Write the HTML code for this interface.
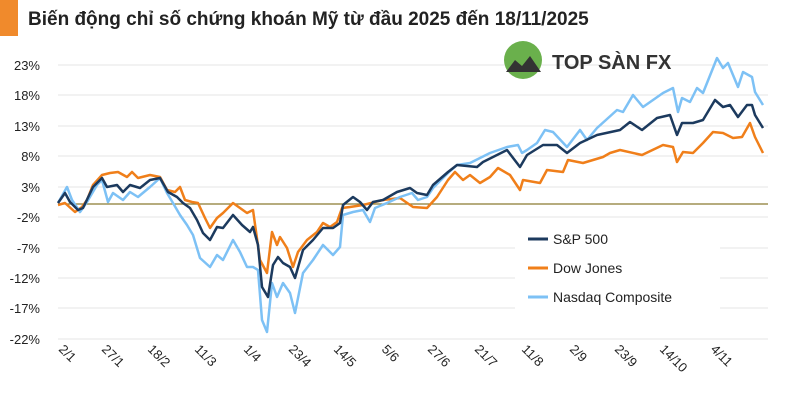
<!DOCTYPE html><html><head><meta charset="utf-8"><style>
body{margin:0;width:800px;height:400px;background:#fff;overflow:hidden;font-family:"Liberation Sans",sans-serif}
</style></head><body>
<svg width="800" height="400" xmlns="http://www.w3.org/2000/svg" font-family="Liberation Sans, DejaVu Sans, sans-serif">
<rect x="0" y="0" width="18" height="36" fill="#f08a2c"/>
<text x="28" y="25" font-size="19" font-weight="bold" fill="#222">Biến động chỉ số chứng khoán Mỹ từ đầu 2025 đến 18/11/2025</text>
<g stroke="#e4e4e4" stroke-width="1">
<line x1="58" y1="65" x2="768" y2="65"/><line x1="58" y1="95" x2="768" y2="95"/><line x1="58" y1="126" x2="768" y2="126"/><line x1="58" y1="156" x2="768" y2="156"/><line x1="58" y1="187" x2="768" y2="187"/><line x1="58" y1="217" x2="768" y2="217"/><line x1="58" y1="248" x2="768" y2="248"/><line x1="58" y1="278" x2="768" y2="278"/><line x1="58" y1="308" x2="768" y2="308"/><line x1="58" y1="339" x2="768" y2="339"/>
</g>
<line x1="58" y1="204" x2="768" y2="204" stroke="#8a7a30" stroke-width="1.3"/>
<g font-size="13" fill="#222" text-anchor="end">
<text x="40" y="70">23%</text><text x="40" y="100">18%</text><text x="40" y="131">13%</text><text x="40" y="161">8%</text><text x="40" y="192">3%</text><text x="40" y="222">-2%</text><text x="40" y="253">-7%</text><text x="40" y="283">-12%</text><text x="40" y="313">-17%</text><text x="40" y="344">-22%</text>
</g>
<g font-size="13" fill="#222">
<text transform="translate(58,350) rotate(45)">2/1</text>
<text transform="translate(101,350) rotate(45)">27/1</text>
<text transform="translate(147,350) rotate(45)">18/2</text>
<text transform="translate(194,350) rotate(45)">11/3</text>
<text transform="translate(243,350) rotate(45)">1/4</text>
<text transform="translate(288,350) rotate(45)">23/4</text>
<text transform="translate(333,350) rotate(45)">14/5</text>
<text transform="translate(381,350) rotate(45)">5/6</text>
<text transform="translate(427,350) rotate(45)">27/6</text>
<text transform="translate(474,350) rotate(45)">21/7</text>
<text transform="translate(521,350) rotate(45)">11/8</text>
<text transform="translate(569,350) rotate(45)">2/9</text>
<text transform="translate(614,350) rotate(45)">23/9</text>
<text transform="translate(659,350) rotate(45)">14/10</text>
<text transform="translate(710,350) rotate(45)">4/11</text>
</g>
<g fill="none" stroke-width="2.5" stroke-linejoin="round">
<polyline stroke="#f07f1a" points="58,205 65,203 75,212 82,207 87,200 93,185 102,175 110,173 118,172 127,177 132,172 138,178 150,175 160,177 167,190 175,192 180,187 185,200 192,202 198,203 205,218 210,228 217,218 223,213 233,203 240,208 247,213 253,210 260,260 267,273 272,232 277,245 280,237 287,248 293,267 298,252 307,240 317,232 323,223 330,227 337,222 342,208 350,207 363,205 383,200 400,198 413,207 427,208 437,197 448,180 455,172 463,180 470,175 480,183 490,177 498,168 510,175 520,190 523,180 540,183 547,170 563,172 568,160 583,163 603,157 610,153 620,150 642,155 663,145 673,147 677,162 683,152 693,153 703,143 713,132 723,133 733,138 742,137 750,123 755,137 763,153"/>
<polyline stroke="#7dc1f5" points="58,203 67,187 72,200 80,212 87,202 97,185 102,180 108,202 113,193 123,200 130,192 138,197 150,187 160,178 167,193 173,203 180,215 187,225 193,235 200,258 210,267 217,255 223,260 233,240 240,252 247,267 253,267 258,270 262,320 267,332 272,283 277,297 283,283 290,293 295,313 303,273 313,260 323,245 333,255 340,247 343,215 353,212 363,210 370,222 375,208 387,203 400,197 412,193 418,200 427,197 433,188 448,173 457,165 470,163 490,153 507,147 518,145 522,153 527,150 537,143 545,130 553,132 567,147 580,130 587,140 597,128 617,110 623,112 633,95 643,107 663,93 673,88 678,112 682,98 690,102 697,88 703,93 717,58 723,68 728,63 738,87 743,72 752,77 755,92 763,105"/>
<polyline stroke="#1c3a5e" points="58,203 65,193 70,202 78,210 83,208 93,187 102,178 107,187 117,185 123,192 130,185 140,188 150,180 160,178 168,192 177,197 183,203 190,208 197,220 203,233 210,240 217,227 223,228 233,215 242,225 250,232 253,227 258,245 262,287 268,297 273,265 278,257 283,263 290,267 295,278 303,250 313,240 323,228 333,228 340,223 343,205 353,197 360,202 367,210 373,202 383,200 397,192 410,188 417,193 427,195 433,185 448,172 457,165 477,167 483,162 507,150 520,167 527,155 543,145 557,145 567,153 580,143 597,135 620,130 630,122 642,130 657,118 670,115 677,135 682,123 693,123 703,120 715,100 723,107 730,105 738,117 747,105 752,105 755,115 763,128"/>
</g>
<rect x="515" y="225" width="205" height="85" fill="#fff"/>
<g font-size="14" fill="#222">
<line x1="528" y1="239" x2="548" y2="239" stroke="#1c3a5e" stroke-width="3"/><text x="553" y="244">S&amp;P 500</text>
<line x1="528" y1="268" x2="548" y2="268" stroke="#f07f1a" stroke-width="3"/><text x="553" y="273">Dow Jones</text>
<line x1="528" y1="297" x2="548" y2="297" stroke="#7dc1f5" stroke-width="3"/><text x="553" y="302">Nasdaq Composite</text>
</g>
<circle cx="523" cy="60" r="19" fill="#6ab04c"/>
<path d="M506,72 L515,60 L522,66 L530,56 L541,72 Z" fill="#333"/>
<text x="552" y="69" font-size="20" font-weight="bold" fill="#333">TOP SÀN FX</text>
</svg>
</body></html>
